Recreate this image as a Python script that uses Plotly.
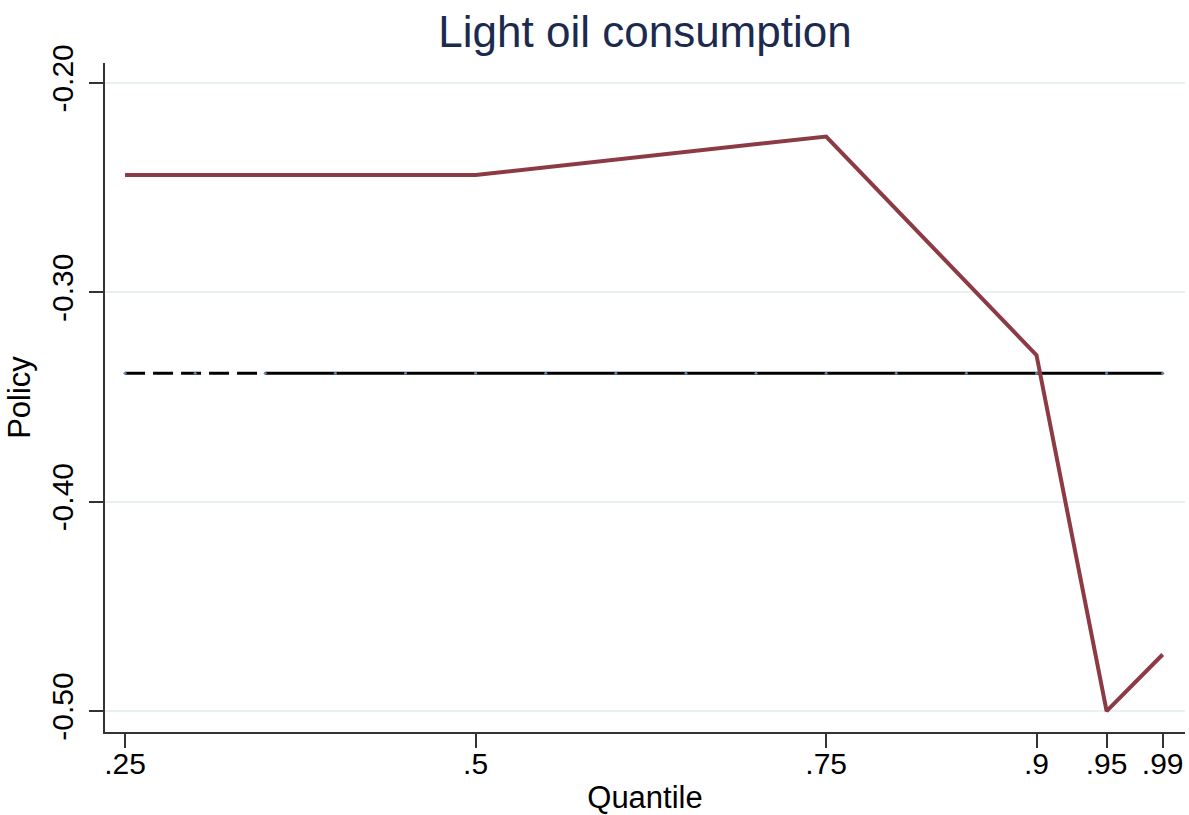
import plotly.graph_objects as go

# Data
quantiles = [0.25, 0.50, 0.75, 0.90, 0.95, 0.99]
policy_qr = [-0.244, -0.244, -0.2256, -0.330, -0.500, -0.473]

ref_q = [0.25, 0.30, 0.35, 0.40, 0.45, 0.50, 0.55, 0.60, 0.65, 0.70, 0.75,
         0.80, 0.85, 0.90, 0.95, 0.99]
ref_val = [-0.3387] * len(ref_q)

x_ticks = [0.25, 0.50, 0.75, 0.90, 0.95, 0.99]
x_tick_labels = [".25", ".5", ".75", ".9", ".95", ".99"]
y_ticks = [-0.20, -0.30, -0.40, -0.50]
y_tick_labels = ["-0.20", "-0.30", "-0.40", "-0.50"]

fig = go.Figure()

# dashed part of reference line
fig.add_trace(go.Scatter(x=ref_q[:3], y=ref_val[:3], mode="lines",
                         line=dict(color="black", width=3, dash="20px,8px"),
                         showlegend=False, hoverinfo="skip"))
# solid part
fig.add_trace(go.Scatter(x=ref_q[2:], y=ref_val[2:], mode="lines",
                         line=dict(color="black", width=3),
                         showlegend=False, hoverinfo="skip"))
fig.add_trace(go.Scatter(x=ref_q, y=ref_val, mode="markers",
                         marker=dict(color="#5b86b5", size=3),
                         showlegend=False, hoverinfo="skip"))
# quantile regression estimates
fig.add_trace(go.Scatter(x=quantiles, y=policy_qr, mode="lines",
                         line=dict(color="#8c3a44", width=4),
                         showlegend=False))

fig.update_layout(
    width=1189, height=815,
    margin=dict(l=105, r=4, t=63, b=79),
    paper_bgcolor="white", plot_bgcolor="white",
    font=dict(family="Arial, Liberation Sans, sans-serif", color="black"),
    title=dict(text="Light oil consumption", x=0.5, xanchor="center",
               xref="paper", y=0.961, yanchor="middle",
               font=dict(size=44, color="#1c2a4f")),
    showlegend=False,
)
fig.update_xaxes(
    range=[0.2357, 1.0059], tickvals=x_ticks, ticktext=x_tick_labels,
    showgrid=False, zeroline=False,
    showline=True, linecolor="#333333", linewidth=1.5,
    ticks="outside", ticklen=14, tickwidth=1.5, tickcolor="#333333",
    tickfont=dict(size=30, color="black"), ticklabelstandoff=-10,
    title=dict(text="Quantile", font=dict(size=31, color="black"), standoff=10),
)
fig.update_yaxes(
    range=[-0.51, -0.1905], tickvals=y_ticks, ticktext=y_tick_labels,
    showgrid=True, gridcolor="#e8f0f2", gridwidth=2, zeroline=False,
    showline=True, linecolor="#333333", linewidth=1.5,
    ticks="outside", ticklen=14, tickwidth=1.5, tickcolor="#333333",
    tickangle=-90, tickfont=dict(size=30, color="black"), ticklabelstandoff=4,
    title=dict(text="Policy", font=dict(size=31, color="black"), standoff=6),
)

fig.write_html("out.html", config={"displayModeBar": False},
               post_script="document.body.style.margin='0';document.body.style.overflow='hidden';")
